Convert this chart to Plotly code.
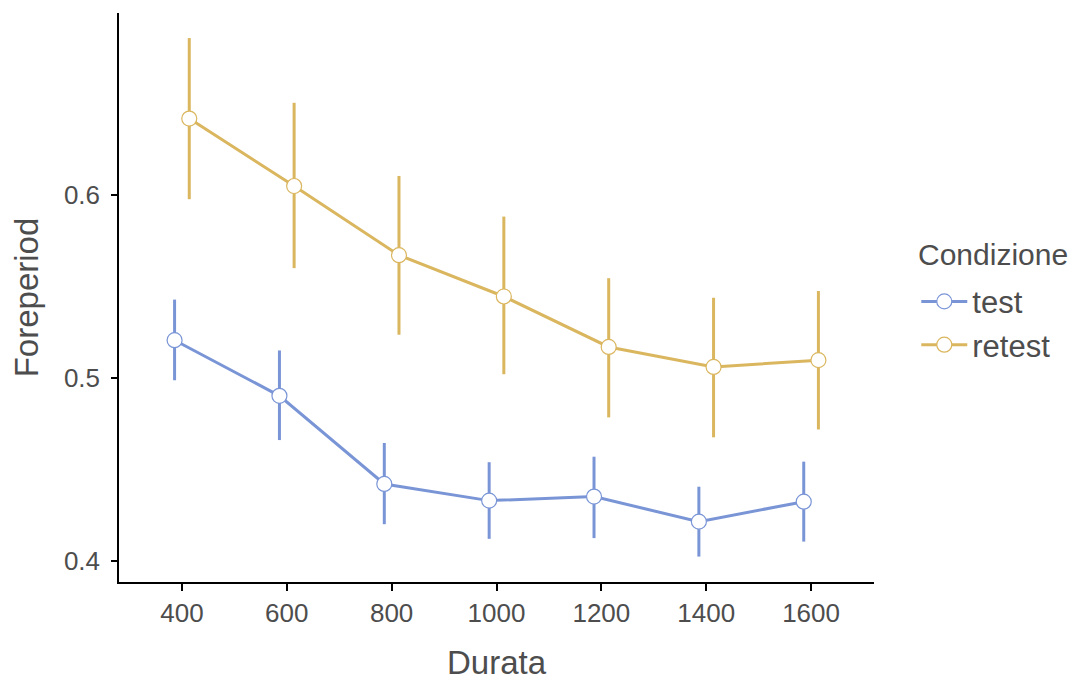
import plotly.graph_objects as go

durata = [400, 600, 800, 1000, 1200, 1400, 1600]
test_mean = [0.5206, 0.4902, 0.4420, 0.4329, 0.4351, 0.4214, 0.4323]
test_hi = [0.5428, 0.5150, 0.4644, 0.4539, 0.4569, 0.4405, 0.4542]
test_lo = [0.4987, 0.4660, 0.4200, 0.4120, 0.4124, 0.4023, 0.4105]
retest_mean = [0.6418, 0.6049, 0.5671, 0.5445, 0.5169, 0.5060, 0.5097]
retest_hi = [0.6858, 0.6504, 0.6104, 0.5882, 0.5545, 0.5438, 0.5475]
retest_lo = [0.5977, 0.5600, 0.5236, 0.5020, 0.4784, 0.4675, 0.4718]
x_ticks = [400, 600, 800, 1000, 1200, 1400, 1600]
y_ticks = [0.4, 0.5, 0.6]

dodge = 14
fig = go.Figure()
series = [
    ("test", test_mean, test_hi, test_lo, "#7a95d6", -dodge),
    ("retest", retest_mean, retest_hi, retest_lo, "#dab65f", dodge),
]
for name, m, hi, lo, col, dx in series:
    xs = [d + dx for d in durata]
    fig.add_trace(go.Scatter(
        x=xs, y=m, name=name, mode="lines+markers",
        line=dict(color=col, width=3),
        marker=dict(symbol="circle", size=15, color="white", line=dict(color=col, width=1.2)),
        error_y=dict(type="data", symmetric=False,
                     array=[h - v for h, v in zip(hi, m)],
                     arrayminus=[v - l for v, l in zip(m, lo)],
                     color=col, thickness=3, width=0),
    ))

txt = "#4d4d4d"
fig.add_annotation(text="Condizione", xref="paper", yref="paper", x=1.056, y=0.575,
                   xanchor="left", yanchor="middle", showarrow=False,
                   font=dict(size=30, color=txt))
fig.update_layout(
    width=1072, height=673,
    margin=dict(l=111, r=206, t=5, b=99),
    paper_bgcolor="white", plot_bgcolor="white",
    font=dict(family="Liberation Sans, Arial, sans-serif", color=txt, size=26),
    xaxis=dict(range=[280, 1720], tickvals=x_ticks, ticktext=[str(t) for t in x_ticks],
               showgrid=False, zeroline=False, showline=True, linecolor="black", linewidth=1.5,
               ticks="outside", ticklen=7, tickcolor="black", tickwidth=1.5,
               tickfont=dict(size=26, color=txt), automargin=False,
               title=dict(text="Durata", font=dict(size=33, color=txt), standoff=30)),
    yaxis=dict(range=[0.3884, 0.6995], tickvals=y_ticks, ticktext=["0.4", "0.5", "0.6"],
               showgrid=False, zeroline=False, showline=True, linecolor="black", linewidth=1.5,
               ticks="outside", ticklen=6, tickcolor="black", tickwidth=1.5,
               tickfont=dict(size=26, color=txt), automargin=False, ticklabelstandoff=6,
               title=dict(text="Foreperiod", font=dict(size=33, color=txt), standoff=24)),
    legend=dict(x=1.056, y=0.540, xanchor="left", yanchor="top",
                font=dict(size=31, color=txt), tracegroupgap=0, itemwidth=46),
    showlegend=True,
)
fig.write_html("out.html")
